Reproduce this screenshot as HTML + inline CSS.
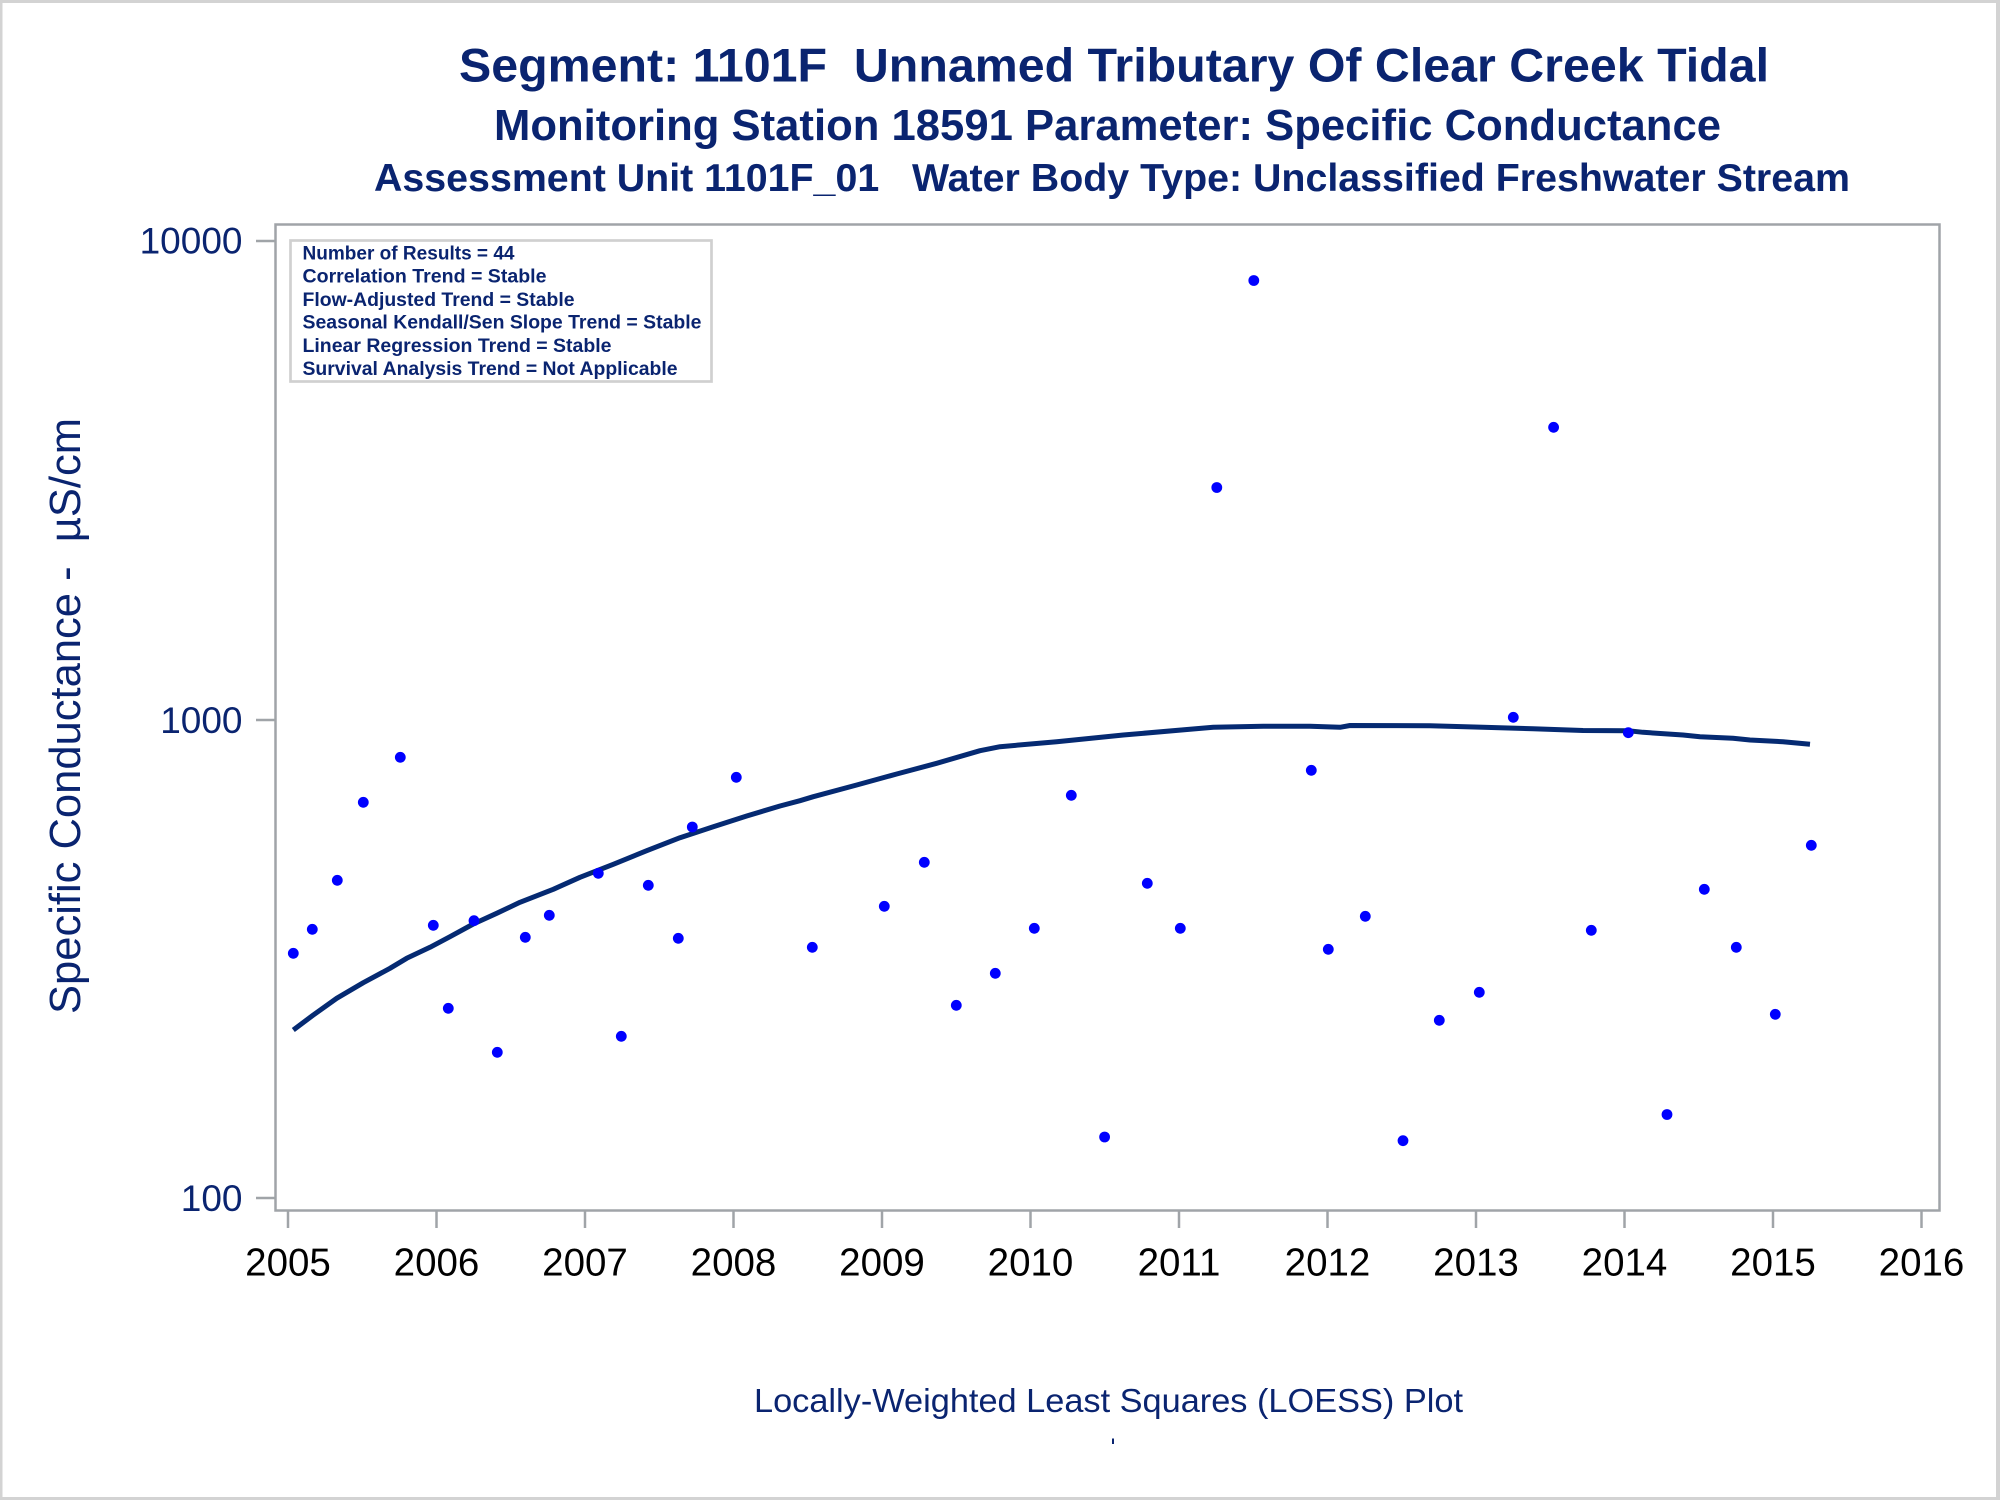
<!DOCTYPE html>
<html>
<head>
<meta charset="utf-8">
<style>
  html, body { margin:0; padding:0; background:#ffffff; width:2000px; height:1500px; overflow:hidden; }
  svg { display:block; }
  text { font-family: "Liberation Sans", Arial, sans-serif; }
</style>
</head>
<body>
<svg width="2000" height="1500" viewBox="0 0 2000 1500" xmlns="http://www.w3.org/2000/svg">
  <rect x="0" y="0" width="2000" height="1500" fill="#ffffff"/>
  <!-- outer border -->
  <rect x="0" y="0" width="2000" height="3" fill="#d3d3d3"/>
  <rect x="0" y="0" width="2.5" height="1500" fill="#d3d3d3"/>
  <rect x="1996" y="0" width="4" height="1500" fill="#d3d3d3"/>
  <rect x="0" y="1497" width="2000" height="3" fill="#d3d3d3"/>

  <!-- titles -->
  <text x="1114" y="81.7" text-anchor="middle" font-size="47" font-weight="bold" fill="#0a2470" textLength="1310" lengthAdjust="spacingAndGlyphs">Segment: 1101F &#160;Unnamed Tributary Of Clear Creek Tidal</text>
  <text x="1107.5" y="140" text-anchor="middle" font-size="43.5" font-weight="bold" fill="#0a2470" textLength="1227" lengthAdjust="spacingAndGlyphs">Monitoring Station 18591 Parameter: Specific Conductance</text>
  <text x="1112" y="191" text-anchor="middle" font-size="39" font-weight="bold" fill="#0a2470" textLength="1476" lengthAdjust="spacingAndGlyphs">Assessment Unit 1101F_01 &#160; Water Body Type: Unclassified Freshwater Stream</text>

  <!-- plot frame -->
  <rect x="275.5" y="224.5" width="1664" height="986" fill="none" stroke="#a0a4a8" stroke-width="2.5"/>

  <!-- y ticks -->
  <g stroke="#a0a4a8" stroke-width="2.5">
    <line x1="256" y1="241" x2="275" y2="241"/>
    <line x1="256" y1="720" x2="275" y2="720"/>
    <line x1="256" y1="1198" x2="275" y2="1198"/>
  </g>
  <g font-size="37" fill="#0a2470" text-anchor="end">
    <text x="242.5" y="253.5">10000</text>
    <text x="242.5" y="733">1000</text>
    <text x="242.5" y="1211">100</text>
  </g>

  <!-- x ticks -->
  <g stroke="#a0a4a8" stroke-width="2.5">
    <line x1="288" y1="1211" x2="288" y2="1228"/>
    <line x1="436.5" y1="1211" x2="436.5" y2="1228"/>
    <line x1="585" y1="1211" x2="585" y2="1228"/>
    <line x1="733.5" y1="1211" x2="733.5" y2="1228"/>
    <line x1="882" y1="1211" x2="882" y2="1228"/>
    <line x1="1030.5" y1="1211" x2="1030.5" y2="1228"/>
    <line x1="1179" y1="1211" x2="1179" y2="1228"/>
    <line x1="1327.5" y1="1211" x2="1327.5" y2="1228"/>
    <line x1="1476" y1="1211" x2="1476" y2="1228"/>
    <line x1="1624.5" y1="1211" x2="1624.5" y2="1228"/>
    <line x1="1773" y1="1211" x2="1773" y2="1228"/>
    <line x1="1921.5" y1="1211" x2="1921.5" y2="1228"/>
  </g>
  <g font-size="38.5" fill="#000000" text-anchor="middle">
    <text x="288" y="1275.7">2005</text>
    <text x="436.5" y="1275.7">2006</text>
    <text x="585" y="1275.7">2007</text>
    <text x="733.5" y="1275.7">2008</text>
    <text x="882" y="1275.7">2009</text>
    <text x="1030.5" y="1275.7">2010</text>
    <text x="1179" y="1275.7">2011</text>
    <text x="1327.5" y="1275.7">2012</text>
    <text x="1476" y="1275.7">2013</text>
    <text x="1624.5" y="1275.7">2014</text>
    <text x="1773" y="1275.7">2015</text>
    <text x="1921.5" y="1275.7">2016</text>
  </g>

  <!-- y axis label -->
  <text x="80" y="716" text-anchor="middle" font-size="44" fill="#0a2470" transform="rotate(-90 80 716)" textLength="596" lengthAdjust="spacingAndGlyphs">Specific Conductance - &#160;µS/cm</text>

  <!-- x axis label -->
  <text x="1108.5" y="1412" text-anchor="middle" font-size="33" fill="#0a2470" textLength="709" lengthAdjust="spacingAndGlyphs">Locally-Weighted Least Squares (LOESS) Plot</text>
  <rect x="1112" y="1438.5" width="2" height="5.5" fill="#0a2470"/>

  <!-- legend box -->
  <rect x="290.5" y="240.5" width="421" height="141" fill="#ffffff" stroke="#d0d0d0" stroke-width="2.7"/>
  <g font-size="19" font-weight="bold" fill="#0a2470">
    <text x="302.5" y="259.3" textLength="212" lengthAdjust="spacingAndGlyphs">Number of Results = 44</text>
    <text x="302.5" y="282.7" textLength="244" lengthAdjust="spacingAndGlyphs">Correlation Trend = Stable</text>
    <text x="302.5" y="306" textLength="272" lengthAdjust="spacingAndGlyphs">Flow-Adjusted Trend = Stable</text>
    <text x="302.5" y="328.7" textLength="399" lengthAdjust="spacingAndGlyphs">Seasonal Kendall/Sen Slope Trend = Stable</text>
    <text x="302.5" y="352" textLength="309" lengthAdjust="spacingAndGlyphs">Linear Regression Trend = Stable</text>
    <text x="302.5" y="375" textLength="375" lengthAdjust="spacingAndGlyphs">Survival Analysis Trend = Not Applicable</text>
  </g>

  <!-- LOESS curve -->
  <polyline fill="none" stroke="#052a72" stroke-width="5" stroke-linejoin="round" points="
    293.3,1030 313.3,1015 336.7,998.3 363.3,982.7 390,968.3 406.7,958.3 430,947.3 450,936.7
    473.3,924 496.7,913.3 520,902.3 553.3,889.3 580,877.3 613.3,864.3 646.7,850.7 680,837.7
    713.3,826.7 746.7,816 780,806 800,800.7 813.3,796.7 856.7,785 896.7,774 936.7,763.3
    980,750.7 1000,746.7 1056.7,741.7 1123.3,735 1190,729.3 1213.3,727.3 1263.3,726.3 1310,726.3
    1340,727.3 1350,725.5 1430,725.7 1483,727.3 1533,728.7 1583,730.5 1628,730.7 1643,732.3
    1683,735 1700,736.7 1733,738.3 1750,740 1783,741.7 1810,744.3"/>

  <!-- data points -->
  <g fill="#0000ff">
    <circle cx="293.3" cy="953.3" r="5.4"/>
    <circle cx="312.3" cy="929.3" r="5.4"/>
    <circle cx="337.3" cy="880.3" r="5.4"/>
    <circle cx="363.3" cy="802.3" r="5.4"/>
    <circle cx="400.3" cy="757.3" r="5.4"/>
    <circle cx="433.3" cy="925.3" r="5.4"/>
    <circle cx="448.3" cy="1008.3" r="5.4"/>
    <circle cx="474" cy="920.7" r="5.4"/>
    <circle cx="497.3" cy="1052.3" r="5.4"/>
    <circle cx="525.3" cy="937.3" r="5.4"/>
    <circle cx="549.3" cy="915.3" r="5.4"/>
    <circle cx="598.3" cy="873.3" r="5.4"/>
    <circle cx="621.3" cy="1036.3" r="5.4"/>
    <circle cx="648.3" cy="885.3" r="5.4"/>
    <circle cx="678.3" cy="938.3" r="5.4"/>
    <circle cx="692.3" cy="827" r="5.4"/>
    <circle cx="736.3" cy="777.3" r="5.4"/>
    <circle cx="812.3" cy="947.3" r="5.4"/>
    <circle cx="884.3" cy="906.3" r="5.4"/>
    <circle cx="924.3" cy="862.3" r="5.4"/>
    <circle cx="956.3" cy="1005.3" r="5.4"/>
    <circle cx="995.3" cy="973.3" r="5.4"/>
    <circle cx="1034.3" cy="928.3" r="5.4"/>
    <circle cx="1071.3" cy="795.3" r="5.4"/>
    <circle cx="1104.6" cy="1137" r="5.4"/>
    <circle cx="1147.3" cy="883.3" r="5.4"/>
    <circle cx="1180.3" cy="928.3" r="5.4"/>
    <circle cx="1216.8" cy="487.5" r="5.4"/>
    <circle cx="1253.8" cy="280.5" r="5.4"/>
    <circle cx="1311.3" cy="770.3" r="5.4"/>
    <circle cx="1328.3" cy="949.3" r="5.4"/>
    <circle cx="1365.3" cy="916.3" r="5.4"/>
    <circle cx="1403" cy="1140.7" r="5.4"/>
    <circle cx="1439.3" cy="1020.3" r="5.4"/>
    <circle cx="1479.3" cy="992.3" r="5.4"/>
    <circle cx="1513.3" cy="717.3" r="5.4"/>
    <circle cx="1553.6" cy="427.3" r="5.4"/>
    <circle cx="1591.3" cy="930.3" r="5.4"/>
    <circle cx="1628.3" cy="732.7" r="5.4"/>
    <circle cx="1667" cy="1114.5" r="5.4"/>
    <circle cx="1704.3" cy="889.3" r="5.4"/>
    <circle cx="1736.3" cy="947.3" r="5.4"/>
    <circle cx="1775.3" cy="1014.3" r="5.4"/>
    <circle cx="1811.3" cy="845.3" r="5.4"/>
  </g>
</svg>
</body>
</html>
